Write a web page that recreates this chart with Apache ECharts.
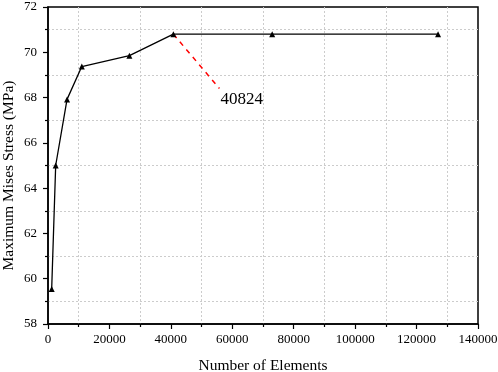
<!DOCTYPE html>
<html>
<head>
<meta charset="utf-8">
<script src="https://cdn.jsdelivr.net/npm/echarts@6/dist/echarts.min.js"></script>
<style>
  html, body { margin: 0; padding: 0; background: #fff; }
  #main { width: 498px; height: 372px; }
</style>
</head>
<body>
<div id="main"></div>
<script>
// mesh convergence data
const elements = [1200, 2500, 6200, 11000, 26500, 40824, 73000, 127000];
const stress = [59.55, 65.0, 67.92, 69.37, 69.85, 70.8, 70.8, 70.8];

// dashed pointer to the chosen mesh
const pointerX = [40824, 55800];
const pointerY = [70.8, 68.4];
const pointerLabel = "40824";

const font = "Liberation Serif";

let chart = echarts.init(document.getElementById("main"));

let option = {
  animation: false,
  grid: {
    left: 48,
    right: 20,
    top: 7,
    bottom: 48,
    containLabel: false,
    outerBoundsMode: "none",
    show: true,
    borderColor: "#000",
    borderWidth: 1.5,
  },
  xAxis: {
    type: "value",
    min: 0,
    max: 140000,
    interval: 20000,
    name: "Number of Elements",
    nameLocation: "middle",
    nameGap: 34,
    nameMoveOverlap: false,
    nameTextStyle: { fontFamily: font, fontSize: 15.5, color: "#000" },
    axisLine: { show: true, lineStyle: { color: "#000", width: 1.5 } },
    axisTick: { show: true, length: 5, lineStyle: { color: "#000", width: 1.2 } },
    minorTick: { show: true, splitNumber: 2, length: 3, lineStyle: { color: "#000", width: 1.2 } },
    axisLabel: { fontFamily: font, fontSize: 13, color: "#000", margin: 9, formatter: (v) => String(v) },
    splitLine: { show: false },
    minorSplitLine: { show: true, lineStyle: { color: "#ccc", type: [2, 2], width: 1 } },
  },
  yAxis: {
    type: "value",
    min: 58,
    max: 72,
    interval: 2,
    name: "Maximum Mises Stress (MPa)",
    nameLocation: "middle",
    nameGap: 31,
    nameMoveOverlap: false,
    nameTextStyle: { fontFamily: font, fontSize: 15.5, color: "#000", padding: [0, 20, 0, 0] },
    axisLine: { show: true, lineStyle: { color: "#000", width: 1.5 } },
    axisTick: { show: true, length: 5, lineStyle: { color: "#000", width: 1.2 } },
    minorTick: { show: true, splitNumber: 2, length: 3, lineStyle: { color: "#000", width: 1.2 } },
    axisLabel: { fontFamily: font, fontSize: 13, color: "#000", margin: 11 },
    splitLine: { show: false },
    minorSplitLine: { show: true, lineStyle: { color: "#ccc", type: [2, 2], width: 1 } },
  },
  series: [
    {
      type: "line",
      data: pointerX.map((x, i) => [x, pointerY[i]]),
      symbol: "circle",
      symbolSize: 0.1,
      showSymbol: true,
      lineStyle: { color: "#ff0000", width: 1.5, type: [5, 5] },
      itemStyle: { color: "#ff0000" },
      label: {
        show: true,
        position: "right",
        offset: [-4, 11],
        fontFamily: font,
        fontSize: 17,
        color: "#000",
        formatter: (p) => (p.dataIndex === 1 ? pointerLabel : ""),
      },
      z: 1,
    },
    {
      type: "line",
      data: elements.map((x, i) => [x, stress[i]]),
      symbol: "triangle",
      symbolSize: 6,
      lineStyle: { color: "#000", width: 1.3 },
      itemStyle: { color: "#000" },
      z: 3,
    },
  ],
};
chart.setOption(option);
</script>
</body>
</html>
